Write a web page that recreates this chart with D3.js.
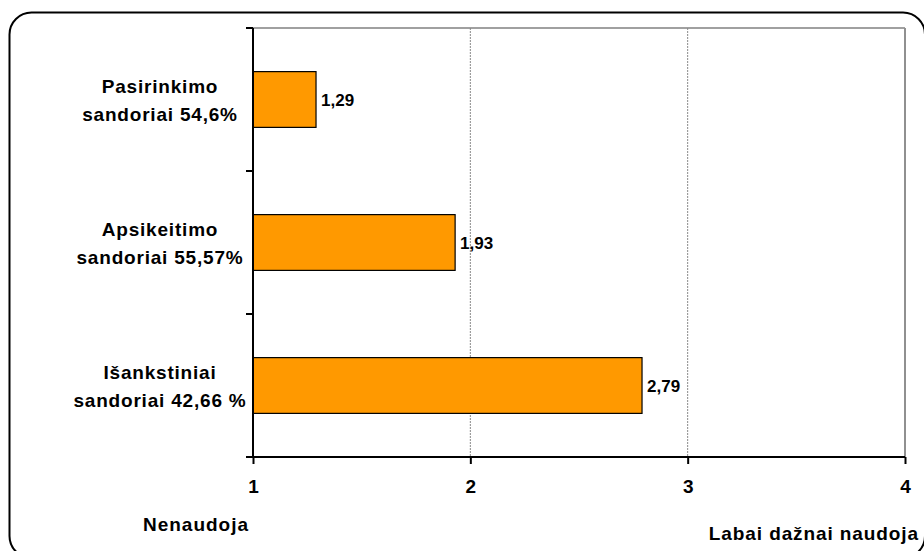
<!DOCTYPE html>
<html>
<head>
<meta charset="utf-8">
<script src="https://cdn.jsdelivr.net/npm/d3@7"></script>
<style>
  html, body { margin: 0; padding: 0; background: #fff; }
  svg { display: block; font-family: Arial, "Liberation Sans", sans-serif; font-weight: bold; }
</style>
</head>
<body>
<svg id="chart" width="924" height="551"></svg>
<script>
// Category labels (two lines each), top to bottom
const categoryLines = [
  ["Pasirinkimo", "sandoriai 54,6%"],
  ["Apsikeitimo", "sandoriai 55,57%"],
  ["Išankstiniai", "sandoriai 42,66 %"]
];
const categories = ["Pasirinkimo", "Apsikeitimo", "Išankstiniai"];
// Average usage score on a 1–4 scale
const values = [1.29, 1.93, 2.79];
const valueLabels = ["1,29", "1,93", "2,79"];
const xTicks = [1, 2, 3, 4];
const axisEndLabels = ["Nenaudoja", "Labai dažnai naudoja"];

const svg = d3.select("#chart");

// Rounded outer frame
svg.append("rect")
  .attr("x", 9.5).attr("y", 12.5)
  .attr("width", 915.5).attr("height", 545.5)
  .attr("rx", 22).attr("ry", 22)
  .attr("fill", "#fff")
  .attr("stroke", "#000").attr("stroke-width", 2);

const plot = { left: 253, right: 905, top: 28, bottom: 457 };

const x = d3.scaleLinear().domain([1, 4]).range([plot.left, plot.right]);
const y = d3.scaleBand().domain(categories).range([plot.top, plot.bottom]).padding(0);

// Plot area border (top)
svg.append("line")
  .attr("x1", plot.left).attr("x2", plot.right)
  .attr("y1", plot.top).attr("y2", plot.top)
  .attr("stroke", "#a0a0a0").attr("stroke-width", 2);

// Vertical gridlines
svg.append("g").selectAll("line")
  .data(xTicks.filter(t => t > 1))
  .join("line")
  .attr("x1", d => x(d)).attr("x2", d => x(d))
  .attr("y1", plot.top).attr("y2", plot.bottom)
  .attr("stroke", d => d === 4 ? "#909090" : "#8a8a8a")
  .attr("stroke-width", d => d === 4 ? 2 : 1)
  .attr("stroke-dasharray", d => d === 4 ? null : "2,1");

// Bars
const barH = y.bandwidth() * 0.39;
svg.append("g").selectAll("rect")
  .data(values)
  .join("rect")
  .attr("x", x(1))
  .attr("y", (d, i) => y(categories[i]) + (y.bandwidth() - barH) / 2)
  .attr("width", d => x(d) - x(1))
  .attr("height", barH)
  .attr("fill", "#FF9900")
  .attr("stroke", "#000").attr("stroke-width", 1.2);

// Value labels
svg.append("g").selectAll("text")
  .data(values)
  .join("text")
  .attr("x", d => x(d) + 5)
  .attr("y", (d, i) => y(categories[i]) + y.bandwidth() / 2 + 6)
  .attr("font-size", 17)
  .attr("fill", "#000")
  .text((d, i) => valueLabels[i]);

// Y axis with category boundary ticks
const yAxis = svg.append("g");
yAxis.append("line")
  .attr("x1", plot.left).attr("x2", plot.left)
  .attr("y1", plot.top).attr("y2", plot.bottom)
  .attr("stroke", "#000").attr("stroke-width", 2);
const boundaries = categories.map(c => y(c)).concat([plot.bottom]);
yAxis.selectAll("line.tick")
  .data(boundaries)
  .join("line").attr("class", "tick")
  .attr("x1", plot.left - 7).attr("x2", plot.left)
  .attr("y1", d => d).attr("y2", d => d)
  .attr("stroke", "#000").attr("stroke-width", 2);

// Category labels
const catG = svg.append("g").attr("text-anchor", "middle").attr("font-size", 19);
categoryLines.forEach((lines, i) => {
  const cy = y(categories[i]) + y.bandwidth() / 2;
  catG.append("text")
    .attr("x", 160).attr("y", cy - 6.5)
    .attr("letter-spacing", 0.8)
    .text(lines[0]);
  catG.append("text")
    .attr("x", 160).attr("y", cy + 21)
    .attr("letter-spacing", 0.8)
    .text(lines[1]);
});

// X axis
const xAxis = d3.axisBottom(x).tickValues(xTicks).tickSize(7).tickPadding(16).tickFormat(d3.format("d"));
const gx = svg.append("g")
  .attr("transform", `translate(0,${plot.bottom})`)
  .call(xAxis);
gx.select(".domain").remove();
gx.append("line")
  .attr("x1", plot.left - 7).attr("x2", plot.right)
  .attr("y1", 0).attr("y2", 0)
  .attr("stroke", "#000").attr("stroke-width", 2);
gx.selectAll(".tick line").attr("stroke", "#000").attr("stroke-width", 2);
gx.selectAll(".tick text")
  .attr("font-size", 19)
  .attr("font-weight", "bold")
  .attr("font-family", "Arial, 'Liberation Sans', sans-serif")
  .attr("fill", "#000");

// Axis end captions
svg.append("text")
  .attr("x", 196).attr("y", 531)
  .attr("text-anchor", "middle")
  .attr("font-size", 19).attr("letter-spacing", 1)
  .text(axisEndLabels[0]);
svg.append("text")
  .attr("x", 919).attr("y", 540)
  .attr("text-anchor", "end")
  .attr("font-size", 19).attr("letter-spacing", 0.9)
  .text(axisEndLabels[1]);
</script>
</body>
</html>
